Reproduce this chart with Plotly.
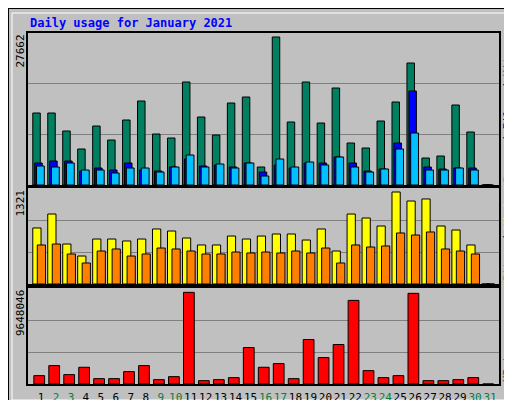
import plotly.graph_objects as go

days = list(range(1, 32))
hits_px = [105,105,123,141,118,132,112,93,126,130,74,109,127,95,89,159,29,114,74,115,80,135,140,113,94,55,150,148,97,124]
files_px = [155,153,153,163,160,162,155,162,163,159,151,158,157,159,155,164,157,160,155,155,149,155,163,161,135,83,159,161,160,160]
pages_px = [158,159,155,162,162,165,160,160,164,159,147,159,156,160,155,168,151,159,154,157,149,159,164,161,141,125,162,162,160,162]
sites_px = [220,206,236,248,231,231,233,231,221,223,230,237,237,228,231,228,226,226,232,221,243,206,210,218,184,193,191,218,222,237]
visits_px = [237,236,246,255,243,241,248,246,240,241,243,246,246,244,245,244,245,243,245,240,255,237,239,238,225,227,224,241,243,246]
kb_zoom = [268,238,265,243,277,277,256,238,280,271,19,283,280,274,184,243,232,277,160,214,175,43,253,274,268,22,283,283,280,274]

HITS_MAX, SITES_MAX, KB_MAX = 27662, 1321, 9648046
hits = [round((177 - p) / 152 * HITS_MAX) for p in hits_px] + [0]
files = [round((177 - p) / 152 * HITS_MAX) for p in files_px] + [0]
pages = [round((177 - p) / 152 * HITS_MAX) for p in pages_px] + [0]
sites = [round((276 - p) / 96 * SITES_MAX) for p in sites_px] + [0]
visits = [round((276 - p) / 96 * SITES_MAX) for p in visits_px] + [0]
kbytes = [round((293 - p) / 287 * KB_MAX) for p in kb_zoom] + [0]
weekend = {2, 3, 9, 10, 16, 17, 23, 24, 30, 31}
tick_text = [f"<span style='color:#008040'>{d}</span>" if d in weekend else str(d) for d in days]

W, H = 512, 400
def py(y): return 1 - y / H
xdom = [20 / W, 491 / W]
doms = {"y": [py(177), py(25)], "y2": [py(276), py(180)], "y3": [py(376), py(280)]}

fig = go.Figure()
line = dict(color="black", width=1)
def bar(y, color, off, w, ax):
    fig.add_trace(go.Bar(x=days, y=y, marker=dict(color=color, line=line), offset=off, width=w,
                         xaxis="x" if ax == "y" else "x" + ax[1], yaxis=ax))
bar(hits, "#008060", -0.55, 0.5, "y")
bar(files, "#0000FF", -0.42, 0.5, "y")
bar(pages, "#00C0FF", -0.3, 0.52, "y")
bar(sites, "#FFFF00", -0.55, 0.55, "y2")
bar(visits, "#FF8000", -0.25, 0.55, "y2")
bar(kbytes, "#FF0000", -0.48, 0.72, "y3")

font = dict(family="DejaVu Sans Mono", size=11, color="black")
lay = dict(width=W, height=H, margin=dict(l=0, r=0, t=0, b=0, autoexpand=False), paper_bgcolor="#C0C0C0",
           plot_bgcolor="#C0C0C0", barmode="overlay", showlegend=False, font=font)
for i, (ya, mx) in enumerate([("y", HITS_MAX), ("y2", SITES_MAX), ("y3", KB_MAX)]):
    xa = "xaxis" if i == 0 else f"xaxis{i+1}"
    yk = "yaxis" if i == 0 else f"yaxis{i+1}"
    lay[xa] = dict(domain=xdom, range=[0.13, 31.6], anchor=ya, showgrid=False, zeroline=False,
                   showline=True, mirror=True, linecolor="black", linewidth=2,
                   tickvals=days if i == 2 else [], ticktext=tick_text if i == 2 else [],
                   ticks="", tickangle=0, ticklabelstandoff=2,
                   tickfont=dict(family="DejaVu Sans Mono", size=11))
    lay[yk] = dict(domain=doms[ya], range=[0, mx], anchor="x" if i == 0 else f"x{i+1}",
                   tickvals=[mx / 3, 2 * mx / 3], showticklabels=False, ticks="",
                   gridcolor="#808080", gridwidth=1, zeroline=False,
                   showline=True, mirror=True, linecolor="black", linewidth=2)
fig.update_layout(**lay)

fig.add_annotation(text="<b>Daily usage for January 2021</b>", x=20 / W, y=py(15), xref="paper", yref="paper",
                   xanchor="left", yanchor="middle", showarrow=False,
                   font=dict(family="DejaVu Sans Mono", size=12, color="#0000FF"))
for label, ytop in [("27662", 25), ("1321", 180), ("9648046", 280)]:
    fig.add_annotation(text=label, x=12 / W, y=py(ytop), xref="paper", yref="paper", textangle=-90,
                       xanchor="center", yanchor="top", showarrow=False,
                       font=dict(family="DejaVu Sans Mono", size=11, color="black"))
right = [("<span style='color:#00C0FF'>Pages</span> / <span style='color:#0000FF'>Files</span> / <span style='color:#008060'>Hits</span>", 177),
         ("<span style='color:#FF8000'>Sites</span> / <span style='color:#FFFF00'>Visits</span>", 276),
         ("<span style='color:#FF0000'>KBytes</span>", 376)]
for txt, ybot in right:
    fig.add_annotation(text=txt, x=499 / W, y=py(ybot), xref="paper", yref="paper", textangle=-90,
                       xanchor="center", yanchor="bottom", showarrow=False,
                       font=dict(family="DejaVu Sans Mono", size=11))
shapes = [
    dict(type="rect", x0=0, x1=1, y0=0, y1=1, line=dict(color="black", width=2)),
    dict(type="rect", x0=505 / W, x1=510 / W, y0=py(398), y1=py(2), fillcolor="#808080", line=dict(width=0)),
    dict(type="rect", x0=2 / W, x1=510 / W, y0=py(398), y1=py(393), fillcolor="#808080", line=dict(width=0)),
    dict(type="rect", x0=4 / W, x1=504 / W, y0=py(392), y1=py(5), line=dict(color="white", width=1)),
]
for s in shapes:
    s.update(xref="paper", yref="paper", layer="below")
fig.update_layout(shapes=shapes)
fig.write_html("out.html")
